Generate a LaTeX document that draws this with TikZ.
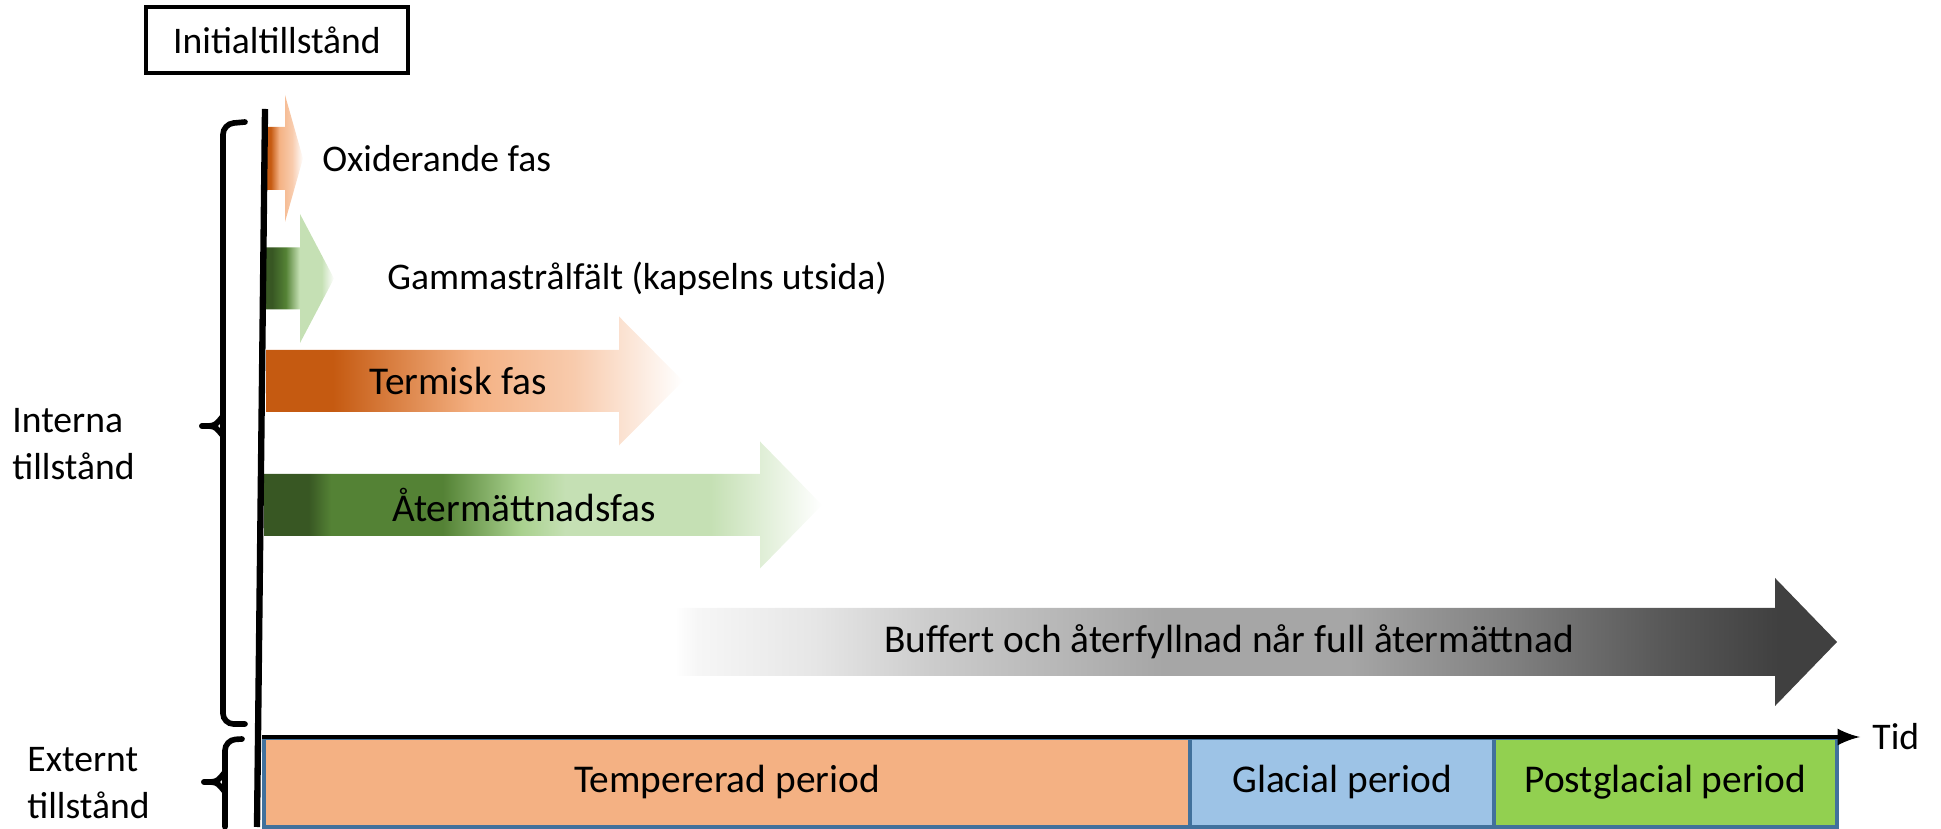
\documentclass[tikz,border=0pt]{standalone}
\usepackage{fontspec}
\setmainfont{Carlito}
\usetikzlibrary{arrows}

\definecolor{oxdark}{HTML}{C55A11}
\definecolor{oxmid}{HTML}{F4B183}
\definecolor{oxlight}{HTML}{F8CBAD}
\definecolor{grdark}{HTML}{385723}
\definecolor{grmid}{HTML}{548235}
\definecolor{grlight}{HTML}{A9D18E}
\definecolor{grpale}{HTML}{C5E0B4}
\definecolor{gyfaint}{HTML}{F6F6F6}
\definecolor{gypale}{HTML}{E6E6E6}
\definecolor{gylight}{HTML}{CCCCCC}
\definecolor{gymid}{HTML}{A6A6A6}
\definecolor{gydeep}{HTML}{808080}
\definecolor{gydim}{HTML}{585858}
\definecolor{gydark}{HTML}{404040}
\definecolor{tempfill}{HTML}{F4B183}
\definecolor{glacfill}{HTML}{9DC3E6}
\definecolor{postfill}{HTML}{92D050}
\definecolor{barline}{HTML}{41719C}

% shadings (25bp..75bp is the bounding box of the arrow)
\pgfdeclarehorizontalshading{oxshade}{100bp}{color(0bp)=(oxdark); color(30bp)=(oxdark); color(42bp)=(oxmid); color(60bp)=(oxlight); color(75bp)=(white); color(100bp)=(white)}
\pgfdeclarehorizontalshading{gammashade}{100bp}{color(0bp)=(grdark); color(30bp)=(grdark); color(40bp)=(grmid); color(50bp)=(grpale); color(66bp)=(grpale); color(75bp)=(white); color(100bp)=(white)}
\pgfdeclarehorizontalshading{termshade}{100bp}{color(0bp)=(oxdark); color(33bp)=(oxdark); color(50bp)=(oxmid); color(62bp)=(oxlight); color(75bp)=(white); color(100bp)=(white)}
\pgfdeclarehorizontalshading{atershade}{100bp}{color(0bp)=(grdark); color(29bp)=(grdark); color(31bp)=(grmid); color(41bp)=(grmid); color(48bp)=(grlight); color(52bp)=(grpale); color(65bp)=(grpale); color(75bp)=(white); color(100bp)=(white)}
\pgfdeclarehorizontalshading{buffshade}{100bp}{color(0bp)=(white); color(25bp)=(white); color(26bp)=(gyfaint); color(31bp)=(gypale); color(36bp)=(gylight); color(46bp)=(gymid); color(54bp)=(gymid); color(61bp)=(gydeep); color(67.5bp)=(gydim); color(72.5bp)=(gydark); color(100bp)=(gydark)}

\begin{document}
\begin{tikzpicture}[
    every node/.style={font=\fontsize{10.7}{13.4}\selectfont},
    statebox/.style={rectangle, draw, line width=1.4pt, minimum width=2.62cm, minimum height=0.66cm},
    tag/.style={anchor=west, align=left},
    intag/.style={font=\fontsize{11.2}{13.4}\selectfont},
    brace/.style={line width=1.6pt, line cap=round},
    vaxis/.style={line width=1.8pt},
    taxis/.style={-latex, line width=1.2pt},
    period/.style={rectangle, draw=barline, line width=1pt, minimum height=0.89cm, outer sep=0pt, anchor=south west, intag}
]
\useasboundingbox (0,0) rectangle (19.41,8.29);

% Initial state
\node[statebox] (initial) at (2.77,7.89) {Initialtillstånd};

% Phase arrows
\shade[shading=oxshade] (2.67,6.39) -- (2.85,6.39) -- (2.85,6.07) -- (3.03,6.705) -- (2.85,7.34) -- (2.85,7.02) -- (2.67,7.02) -- cycle;
\shade[shading=gammashade] (2.65,5.195) -- (3.00,5.195) -- (3.00,4.86) -- (3.34,5.505) -- (3.00,6.15) -- (3.00,5.815) -- (2.65,5.815) -- cycle;
\shade[shading=termshade] (2.66,4.17) -- (6.19,4.17) -- (6.19,3.835) -- (6.83,4.48) -- (6.19,5.125) -- (6.19,4.79) -- (2.66,4.79) -- cycle;
\shade[shading=atershade] (2.64,2.93) -- (7.60,2.93) -- (7.60,2.605) -- (8.22,3.24) -- (7.60,3.875) -- (7.60,3.55) -- (2.64,3.55) -- cycle;
\shade[shading=buffshade] (6.75,1.53) -- (17.75,1.53) -- (17.75,1.23) -- (18.37,1.87) -- (17.75,2.51) -- (17.75,2.21) -- (6.75,2.21) -- cycle;

\node[tag] (oxid) at (3.10,6.705) {Oxiderande fas};
\node[tag] (gamma) at (3.75,5.505) {Gammastrålfält (kapselns utsida)};
\node[intag] (termisk) at (4.58,4.48) {Termisk fas};
\node[intag] (ater) at (5.24,3.24) {Återmättnadsfas};
\node[intag] (buffert) at (12.29,1.87) {Buffert och återfyllnad når full återmättnad};

% Periods
\node[period, fill=tempfill, minimum width=9.26cm] (temp) at (2.64,0.02) {Tempererad period};
\node[period, fill=glacfill, minimum width=3.04cm] (glacial) at (temp.south east) {Glacial period};
\node[period, fill=postfill, minimum width=3.43cm] (postglacial) at (glacial.south east) {Postglacial period};

% Axes
\coordinate (vtop) at (2.65,7.20);
\coordinate (vbot) at (2.57,0.02);
\draw[vaxis] (vtop) -- (vbot);
\coordinate (t0) at (2.62,0.92);
\node[anchor=west] (tid) at (18.60,0.92) {Tid};
\draw[taxis] (t0) -- (tid);

% Braces
\draw[brace, rounded corners=3pt] (2.45,7.07) -- (2.23,7.05) -- (2.23,1.05) -- (2.45,1.05);
\draw[brace] (2.02,4.03) .. controls (2.15,4.03) .. (2.23,4.13);
\draw[brace] (2.02,4.03) .. controls (2.15,4.03) .. (2.23,3.93);
\draw[brace, rounded corners=3pt] (2.42,0.90) -- (2.25,0.89) -- (2.25,0.02);
\draw[brace] (2.04,0.47) .. controls (2.17,0.47) .. (2.25,0.57);
\draw[brace] (2.04,0.47) .. controls (2.17,0.47) .. (2.25,0.37);

% State labels
\node[tag] (interna) at (0.0,3.85) {Interna\\tillstånd};
\node[tag] (externt) at (0.15,0.46) {Externt\\tillstånd};
\end{tikzpicture}
\end{document}
